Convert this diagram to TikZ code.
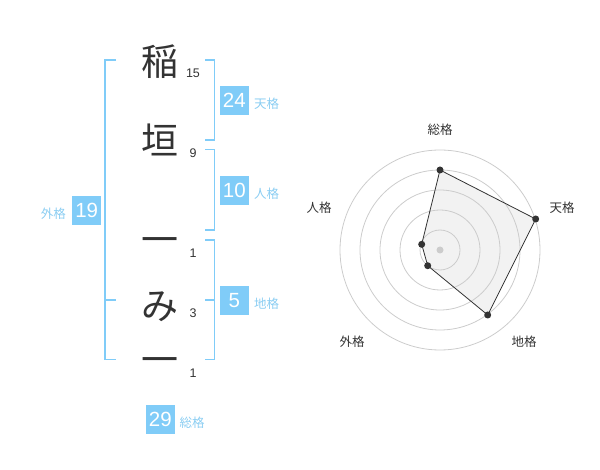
\documentclass[tikz,border=0pt]{standalone}
\usepackage{fontspec}
\setmainfont{Liberation Sans}
\newfontfamily\jp{Noto Sans CJK JP}
\definecolor{kblue}{HTML}{80CCF8}
\definecolor{klab}{HTML}{8ACDF2}
\definecolor{kdark}{HTML}{333333}
\definecolor{kgrid}{HTML}{CCCCCC}
\definecolor{kfill}{HTML}{F2F2F2}
\begin{document}
\begin{tikzpicture}[x=1pt,y=-1pt,
  kanji/.style={font=\jp\fontsize{37}{37}\selectfont, text=kdark, inner sep=0pt},
  stroke/.style={font=\fontsize{12.5}{12.5}\selectfont, text=kdark, inner sep=0pt},
  bracket/.style={draw=kblue, line width=1.5pt},
  valbox/.style={fill=kblue, text=white, minimum width=28.7pt, minimum height=28.7pt, inner sep=0pt, font=\fontsize{20.5}{20.5}\selectfont},
  kaku/.style={font=\jp\fontsize{12.5}{12.5}\selectfont, text=klab, inner sep=0pt},
  rlab/.style={font=\jp\fontsize{12.5}{12.5}\selectfont, text=kdark, inner sep=0pt},
  dot/.style={circle, fill=kdark, inner sep=0pt, minimum size=7pt}]
\useasboundingbox (0,0) rectangle (600,470);
% characters
\node[kanji] (c1) at (159.5,62) {稲};
\node[kanji] (c2) at (159.5,140) {垣};
\node[kanji] (c3) at (160,246) {一};
\node[kanji] (c4) at (160,307) {み};
\node[kanji] (c5) at (160,366) {一};
% stroke counts
\node[stroke] (s1) at (193,73) {15};
\node[stroke] (s2) at (193,153.5) {9};
\node[stroke] (s3) at (193,253) {1};
\node[stroke] (s4) at (193,313.5) {3};
\node[stroke] (s5) at (193,373) {1};
% brackets
\draw[bracket] (116,60) -- (105,60) -- (105,359.5) -- (116,359.5);
\draw[bracket] (105,300) -- (116,300);
\draw[bracket] (205,60) -- (214.5,60) -- (214.5,140) -- (205,140);
\draw[bracket] (205,149.5) -- (214.5,149.5) -- (214.5,230) -- (205,230);
\draw[bracket] (205,240) -- (214.5,240) -- (214.5,359.5) -- (205,359.5);
\draw[bracket] (205,300) -- (214.5,300);
% value boxes
\node[valbox] (b1) at (234.3,100.3) {24};
\node[kaku] (l1) at (266.5,104) {天格};
\node[valbox] (b2) at (234.3,190.3) {10};
\node[kaku] (l2) at (266.5,194) {人格};
\node[valbox] (b3) at (86.7,210.3) {19};
\node[kaku] (l3) at (53.3,213.3) {外格};
\node[valbox] (b4) at (234.3,300.3) {5};
\node[kaku] (l4) at (266.5,304) {地格};
\node[valbox] (b5) at (160.3,419.3) {29};
\node[kaku] (l5) at (192,422.7) {総格};
% radar chart
\coordinate (ctr) at (440,250);
\coordinate (pS) at (440,170);
\coordinate (pT) at (535.7,219);
\coordinate (pC) at (487.7,315);
\coordinate (pG) at (427.7,265.7);
\coordinate (pJ) at (421.7,244.3);
\fill[kfill] (pS) -- (pT) -- (pC) -- (pG) -- (pJ) -- cycle;
\foreach \r in {20,40,60,80,100} \draw[kgrid, line width=0.8pt] (ctr) circle (\r);
\fill[kgrid] (ctr) circle (3.5);
\draw[draw=kdark, line width=0.8pt] (pS) -- (pT) -- (pC) -- (pG) -- (pJ) -- cycle;
\foreach \p in {pS,pT,pC,pG,pJ} \node[dot] at (\p) {};
\node[rlab] (rS) at (440,130) {総格};
\node[rlab] (rT) at (562,208) {天格};
\node[rlab] (rC) at (524,342) {地格};
\node[rlab] (rG) at (352,342) {外格};
\node[rlab] (rJ) at (319,208) {人格};
\end{tikzpicture}
\end{document}
